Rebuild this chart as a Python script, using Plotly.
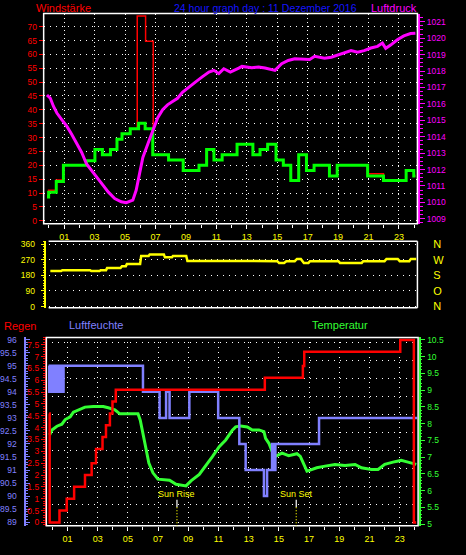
import plotly.graph_objects as go

W, H = 466, 555
FONT = "Liberation Sans, Arial, sans-serif"

# ---------------- data ----------------
hour_ticks = [1, 3, 5, 7, 9, 11, 13, 15, 17, 19, 21, 23]
hour_labels = ["01", "03", "05", "07", "09", "11", "13", "15", "17", "19", "21", "23"]

# Windstärke (average, green) - step series
wind_h = [-0.13, -0.02, 0.48, 0.95, 2.47, 3.02, 3.51, 4.04, 4.47, 4.80, 5.34, 5.89, 6.32, 6.82, 7.86,
          8.82, 9.86, 10.36, 10.84, 11.38, 12.36, 13.40, 13.87, 14.37, 14.92, 15.40, 15.89, 16.41, 16.92,
          17.42, 18.43, 18.94, 20.94, 21.98, 23.47, 23.97, 24.08]
wind_avg = [8.6, 10.3, 14.2, 20, 21.7, 25.7, 23.8, 25.7, 29.4, 31.4, 33.2, 35.2, 33.2, 23.8, 21.9,
            18.1, 20, 25.7, 21.9, 23.8, 27.6, 23.8, 25.7, 27.6, 21.9, 20, 14.5, 23.8, 18.1,
            20, 16.2, 20, 16.2, 14.5, 18.1, 16.2, 16.2]
# Windstärke (gusts, red) - step series
gust_h = [-0.13, -0.02, 0.48, 0.95, 2.47, 3.02, 3.51, 4.04, 4.47, 4.80, 5.34, 5.80, 6.35, 6.85, 7.86,
          8.82, 9.86, 10.36, 10.84, 11.38, 12.36, 13.40, 13.87, 14.37, 14.92, 15.40, 15.89, 16.41, 16.92,
          17.42, 18.43, 18.94, 20.94, 21.98, 23.47, 23.97, 24.08]
gust_v = [9.2, 11.0, 14.7, 20, 21.7, 25.7, 23.8, 25.7, 29.4, 31.4, 33.2, 73.8, 64.7, 23.8, 21.9,
          18.1, 20, 25.7, 21.9, 23.8, 27.6, 23.8, 25.7, 27.6, 21.9, 20, 14.5, 23.8, 18.1,
          20, 16.2, 20, 17.0, 14.5, 18.1, 16.2, 16.2]

# Luftdruck (hPa)
press_h = [-0.13, 0.09, 0.30, 0.52, 0.84, 1.17, 1.50, 1.82, 2.15, 2.47, 2.91, 3.23, 3.56, 3.89, 4.32,
           4.75, 5.08, 5.51, 5.73, 5.95, 6.17, 6.49, 6.82, 7.14, 7.47, 7.79, 8.12, 8.45, 8.77, 9.21,
           9.64, 10.07, 10.51, 10.84, 11.16, 11.49, 11.92, 12.47, 12.68, 13.33, 13.77, 14.20, 14.85,
           15.29, 15.72, 16.15, 16.80, 17.13, 17.46, 18.11, 18.55, 18.98, 19.41, 19.85, 20.28, 20.71,
           21.15, 21.59, 21.91, 22.13, 22.45, 22.89, 23.32, 23.76, 24.08]
press_v = [1016.54, 1016.34, 1015.84, 1015.44, 1015.04, 1014.64, 1014.14, 1013.64, 1013.04, 1012.34,
           1011.84, 1011.44, 1011.04, 1010.64, 1010.24, 1010.04, 1009.98, 1010.14, 1010.74, 1011.74,
           1012.74, 1013.54, 1014.34, 1015.14, 1015.64, 1015.94, 1016.14, 1016.34, 1016.70, 1017.04,
           1017.34, 1017.64, 1017.94, 1018.04, 1017.84, 1018.14, 1017.94, 1018.18, 1018.28, 1018.20,
           1018.24, 1018.18, 1018.04, 1018.44, 1018.64, 1018.74, 1018.74, 1018.70, 1018.90, 1018.78,
           1018.84, 1018.98, 1019.14, 1019.24, 1019.14, 1019.24, 1019.40, 1019.50, 1019.70, 1019.38,
           1019.58, 1019.90, 1020.14, 1020.28, 1020.30]

# Windrichtung (degrees)
dir_h = [0.09, 0.80, 0.88, 2.70, 2.78, 3.32, 3.40, 3.75, 3.82, 4.70, 4.80, 5.05, 5.12, 5.99, 6.06,
         6.55, 6.62, 7.55, 7.62, 8.08, 8.15, 9.02, 9.10, 15.00, 15.12, 15.45, 15.60, 16.15, 16.30,
         16.55, 16.75, 17.05, 17.15, 19.02, 19.12, 20.55, 20.65, 22.05, 22.18, 22.92, 23.05, 23.68,
         23.78, 24.13]
dir_v = [205, 205, 210, 210, 205, 205, 210, 210, 222, 222, 233, 233, 245, 246, 292,
         292, 301, 301, 284, 284, 292, 292, 263, 262, 252, 252, 262, 262, 275,
         275, 252, 252, 262, 262, 252, 252, 262, 262, 275, 275, 262, 262,
         275, 275]
dir_ticks = [0, 90, 180, 270, 360]
dir_labels = ["N", "O", "S", "W", "N"]

# Luftfeuchte (%) - step series
hum_h = [-0.25, -0.21, -0.17, -0.13, -0.09, -0.05, -0.01, 0.03, 0.07, 0.11, 0.15, 0.19, 0.23, 0.27,
         0.31, 0.34, 0.47, 0.51, 0.55, 0.59, 0.63, 0.67, 0.71, 0.74, 6.00, 7.10, 7.53, 7.76, 9.07,
         10.98, 12.38, 12.80, 14.01, 14.22, 14.55, 14.59, 14.63, 14.67, 14.71, 14.75, 14.77, 17.66,
         24.16]
hum_v = [95, 94, 95, 94, 95, 94, 95, 94, 95, 94, 95, 94, 95, 94,
         94, 95, 94, 95, 94, 95, 94, 95, 94, 95, 94, 93, 94, 93, 94,
         93, 92, 91, 90, 91, 92, 91, 92, 91, 92, 91, 92, 93,
         93]

# Regen (mm) - step series
rain_h = [-0.22, -0.18, 0.47, 0.95, 1.44, 2.16, 2.60, 2.89, 3.32, 3.55, 3.81, 3.98, 4.20, 14.07,
          16.59, 16.68, 23.04, 23.94, 24.09]
rain_v = [4.6, 0, 0.5, 1.0, 1.5, 2.0, 2.5, 3.1, 3.6, 4.1, 4.6, 5.1, 5.6, 6.1,
          6.6, 7.2, 7.7, 0, 0]

# Temperatur (°C)
temp_h = [-0.18, -0.03, 0.30, 0.63, 0.85, 1.18, 1.39, 1.84, 2.16, 2.71, 3.37, 3.70, 4.14, 4.47, 4.90,
          5.67, 5.82, 6.00, 6.18, 6.39, 6.66, 6.99, 7.76, 8.19, 8.85, 9.18, 9.73, 10.16, 10.61, 11.05,
          11.48, 11.92, 12.14, 12.47, 12.91, 13.24, 13.68, 14.01, 14.12, 14.34, 14.55, 14.77, 14.99,
          15.21, 15.65, 16.20, 16.42, 16.64, 16.86, 17.07, 17.51, 18.06, 18.72, 19.38, 20.05, 20.47,
          21.13, 21.57, 22.01, 22.56, 23.10, 23.55, 23.88, 24.10]
temp_v = [7.66, 7.81, 7.92, 7.98, 8.12, 8.20, 8.34, 8.44, 8.49, 8.51, 8.51, 8.47, 8.41, 8.29, 8.29,
          8.29, 8.10, 7.71, 7.22, 6.82, 6.53, 6.34, 6.31, 6.19, 6.14, 6.29, 6.48, 6.73, 7.02, 7.31,
          7.51, 7.80, 7.90, 7.93, 7.90, 7.81, 7.81, 7.76, 7.56, 7.41, 7.17, 7.02, 7.07,
          7.12, 7.04, 7.10, 7.02, 6.82, 6.58, 6.61, 6.68, 6.73, 6.78, 6.75, 6.78, 6.68,
          6.63, 6.63, 6.78, 6.85, 6.90, 6.85, 6.82, 6.78]

sun_names = ["Sun Rise", "Sun Set"]
sun_hours = [8.25, 16.15]

title_main = "24 hour graph day : 11 Dezember 2016"

# ---------------- colours ----------------
RED = "#ff0000"
GREEN = "#00ff00"
TGREEN = "#33ff33"
MAG = "#ff00ff"
YEL = "#ffff00"
HUM = "#8080ff"
BLUE = "#1515ff"

TICK = 8.5


def fx(p):
    return p / W


def fy(p):
    return 1 - p / H


def hrange(x0, x1, zero_px, pph):
    return [(x0 - zero_px) / pph, (x1 - zero_px) / pph]


def vrange(top_px, bot_px, pa, va, pb, vb):
    k = (vb - va) / (pb - pa)
    return [va + (bot_px - pa) * k, va + (top_px - pa) * k]


TOP = (40, 417, 10.7, 224)
MID = (45, 417, 241.7, 309.3)
BOT = (42.7, 417.7, 339.3, 530.5)

fig = go.Figure()

# top panel
fig.add_trace(go.Scatter(x=gust_h, y=gust_v, mode="lines", xaxis="x", yaxis="y",
                         line=dict(color=RED, width=1.5, shape="hv"), hoverinfo="skip"))
fig.add_trace(go.Scatter(x=wind_h, y=wind_avg, mode="lines", xaxis="x", yaxis="y",
                         line=dict(color=GREEN, width=3, shape="hv"), hoverinfo="skip"))
fig.add_trace(go.Scatter(x=press_h, y=press_v, mode="lines", xaxis="x", yaxis="y2",
                         line=dict(color=MAG, width=3), hoverinfo="skip"))
# middle panel
fig.add_trace(go.Scatter(x=dir_h, y=dir_v, mode="lines", xaxis="x2", yaxis="y3",
                         line=dict(color=YEL, width=2.5), hoverinfo="skip"))
fig.add_trace(go.Scatter(x=[0], y=[0], mode="lines", xaxis="x2", yaxis="y4",
                         line=dict(color=YEL, width=0), hoverinfo="skip"))
# bottom panel
fig.add_trace(go.Scatter(x=[0], y=[0], mode="lines", xaxis="x3", yaxis="y5",
                         line=dict(color="black", width=0), hoverinfo="skip"))
fig.add_trace(go.Scatter(x=temp_h, y=temp_v, mode="lines", xaxis="x3", yaxis="y6",
                         line=dict(color=TGREEN, width=3), hoverinfo="skip"))
fig.add_trace(go.Scatter(x=hum_h, y=hum_v, mode="lines", xaxis="x3", yaxis="y7",
                         line=dict(color=HUM, width=2.5, shape="hv"), hoverinfo="skip"))
fig.add_trace(go.Scatter(x=rain_h, y=rain_v, mode="lines", xaxis="x3", yaxis="y8",
                         line=dict(color=RED, width=2.5, shape="hv"), hoverinfo="skip"))

tf = lambda c, s=TICK: dict(color=c, size=s, family=FONT)

xcommon = dict(tickmode="array", tickvals=hour_ticks, ticktext=hour_labels, ticks="outside",
               ticklen=4, tickcolor="white", tickfont=tf(YEL, 9), showgrid=True, gridcolor="white",
               gridwidth=1, zeroline=False, showline=False,
               minor=dict(tickmode="linear", tick0=0, dtick=1, ticks="outside", ticklen=3,
                          tickcolor="white", showgrid=False))

layout = dict(
    width=W, height=H, autosize=False, margin=dict(l=0, r=0, t=0, b=0, pad=0),
    paper_bgcolor="black", plot_bgcolor="black", showlegend=False,
    xaxis=dict(domain=[fx(TOP[0]), fx(TOP[1])], range=hrange(TOP[0], TOP[1], 45.35, 15.35),
               anchor="y", griddash="1px,3px", **xcommon),
    yaxis=dict(domain=[fy(TOP[3]), fy(TOP[2])], range=vrange(TOP[2], TOP[3], 221, 0, 24, 70),
               anchor="x", tickmode="linear", tick0=0, dtick=5, ticks="outside", ticklen=4,
               tickcolor=RED, tickfont=tf(RED), showgrid=True, gridcolor="white",
               griddash="1px,5px", zeroline=False, showline=False),
    yaxis2=dict(overlaying="y", side="right", anchor="free", position=fx(419),
                range=vrange(TOP[2], TOP[3], 219, 1009, 19, 1021), tickmode="linear", tick0=1009,
                dtick=1, ticks="outside", ticklen=5, tickcolor=MAG, showline=True, linecolor=MAG,
                linewidth=1.5, tickfont=tf(MAG), showgrid=False, zeroline=False,
                minor=dict(dtick=0.25, ticks="outside", ticklen=3, tickcolor=MAG)),
    xaxis2=dict(domain=[fx(MID[0]), fx(MID[1])], range=hrange(MID[0], MID[1], 45.35, 15.35),
                anchor="y3", showticklabels=False, ticks="", showgrid=False, zeroline=False,
                showline=False),
    yaxis3=dict(domain=[fy(MID[3]), fy(MID[2])], range=vrange(MID[2], MID[3], 308, 0, 244.7, 360),
                anchor="free", position=fx(41.7), tickmode="array", tickvals=dir_ticks,
                ticks="outside", ticklen=4, tickcolor=YEL, showline=True, linecolor=YEL,
                linewidth=1.5, tickfont=tf(YEL), ticklabelstandoff=4, showgrid=True,
                gridcolor="white", griddash="1px,5px", zeroline=False,
                minor=dict(dtick=15, ticks="outside", ticklen=2, tickcolor=YEL)),
    yaxis4=dict(overlaying="y3", side="right", anchor="free", position=fx(432),
                range=vrange(MID[2], MID[3], 308, 0, 244.7, 360), tickmode="array",
                tickvals=dir_ticks, ticktext=dir_labels, ticks="", showline=False,
                showgrid=False, zeroline=False, tickfont=tf(YEL, 11)),
    xaxis3=dict(domain=[fx(BOT[0]), fx(BOT[1])], range=hrange(BOT[0], BOT[1], 48.8, 15.23),
                anchor="y5", griddash="1px,4px", **xcommon),
    yaxis5=dict(domain=[fy(BOT[3]), fy(BOT[2])], range=vrange(BOT[2], BOT[3], 527, 0, 344, 10),
                anchor="x3", tickmode="linear", tick0=0, dtick=1, showticklabels=False, ticks="",
                showgrid=True, gridcolor="white", griddash="1px,5px", zeroline=False,
                showline=False),
    yaxis6=dict(overlaying="y5", side="right", anchor="free", position=fx(419.3),
                range=vrange(BOT[2], BOT[3], 528.7, 5, 341.7, 10.5), tickmode="linear", tick0=5,
                dtick=0.5, ticks="outside", ticklen=5, tickcolor=TGREEN, showline=True,
                linecolor=TGREEN, linewidth=1.5, tickfont=tf(TGREEN), showgrid=False,
                zeroline=False, minor=dict(dtick=0.1, ticks="outside", ticklen=2, tickcolor=TGREEN)),
    yaxis7=dict(overlaying="y5", side="left", anchor="free", position=fx(21.3),
                range=vrange(BOT[2], BOT[3], 526.7, 89, 341.7, 96), tickmode="linear", tick0=89,
                dtick=0.5, ticks="inside", ticklen=4, tickcolor=HUM, showline=True, linecolor=HUM,
                linewidth=1.5, tickfont=tf(HUM), ticklabelstandoff=6, showgrid=False,
                zeroline=False, minor=dict(dtick=0.1, ticks="inside", ticklen=2, tickcolor=HUM)),
    yaxis8=dict(overlaying="y5", side="left", anchor="free", position=fx(42),
                range=vrange(BOT[2], BOT[3], 527, 0, 346.7, 7.5), tickmode="linear", tick0=0,
                dtick=0.5, ticks="outside", ticklen=4, tickcolor=RED, showline=True, linecolor=RED,
                linewidth=1.5, tickfont=tf(RED), showgrid=False, zeroline=False,
                minor=dict(dtick=0.1, ticks="outside", ticklen=2, tickcolor=RED)),
)
fig.update_layout(**layout)

shapes = []
# frames
shapes.append(dict(type="rect", xref="paper", yref="paper", x0=fx(TOP[0]), x1=fx(TOP[1]),
                   y0=fy(TOP[3]), y1=fy(TOP[2]), line=dict(color="white", width=1.5)))
for (a, b, c, d) in [(MID[0], MID[2], MID[1], MID[2]), (MID[1], MID[2], MID[1], MID[3]),
                     (MID[0], MID[3], MID[1], MID[3])]:
    shapes.append(dict(type="line", xref="paper", yref="paper", x0=fx(a), y0=fy(b), x1=fx(c),
                       y1=fy(d), line=dict(color="white", width=1.5)))
shapes.append(dict(type="rect", xref="paper", yref="paper", x0=fx(BOT[0]), x1=fx(BOT[1]),
                   y0=fy(BOT[3]), y1=fy(BOT[2]), line=dict(color="white", width=1.5)))
# cover strip behind the top titles (hides the upper half of the "75" label as in the original)
shapes.append(dict(type="rect", xref="paper", yref="paper", x0=0, x1=fx(39), y0=fy(9.5), y1=1,
                   fillcolor="black", line=dict(width=0), layer="above"))
annotations = []
for name, hr in zip(sun_names, sun_hours):
    shapes.append(dict(type="line", xref="x3", yref="paper", x0=hr, x1=hr, y0=fy(504),
                       y1=fy(511.7), line=dict(color="white", width=1.2)))
    shapes.append(dict(type="line", xref="x3", yref="paper", x0=hr, x1=hr, y0=fy(511.7),
                       y1=fy(BOT[3]), line=dict(color=YEL, width=1.2, dash="1px,2px")))
    annotations.append(dict(x=hr, y=fy(497.7), xref="x3", yref="paper", text=name,
                            showarrow=False, font=tf(YEL, 9), xanchor="center", yanchor="middle"))

titles = [("Windstärke", 60.5, 5.5, RED, 11), (title_main, 264, 5.5, BLUE, 10.5),
          ("Luftdruck", 393.5, 5.5, MAG, 11), ("Regen", 16.5, 327.7, RED, 11),
          ("Luftfeuchte", 93.3, 326.7, HUM, 11), ("Temperatur", 339.3, 327, TGREEN, 11)]
for t, x, y, c, s in titles:
    annotations.append(dict(x=fx(x), y=fy(y), xref="paper", yref="paper", text=t, showarrow=False,
                            font=tf(c, s), xanchor="center", yanchor="middle"))

fig.update_layout(shapes=shapes, annotations=annotations)

fig.write_html("out.html", config={"displayModeBar": False},
               post_script="document.body.style.margin='0';")
